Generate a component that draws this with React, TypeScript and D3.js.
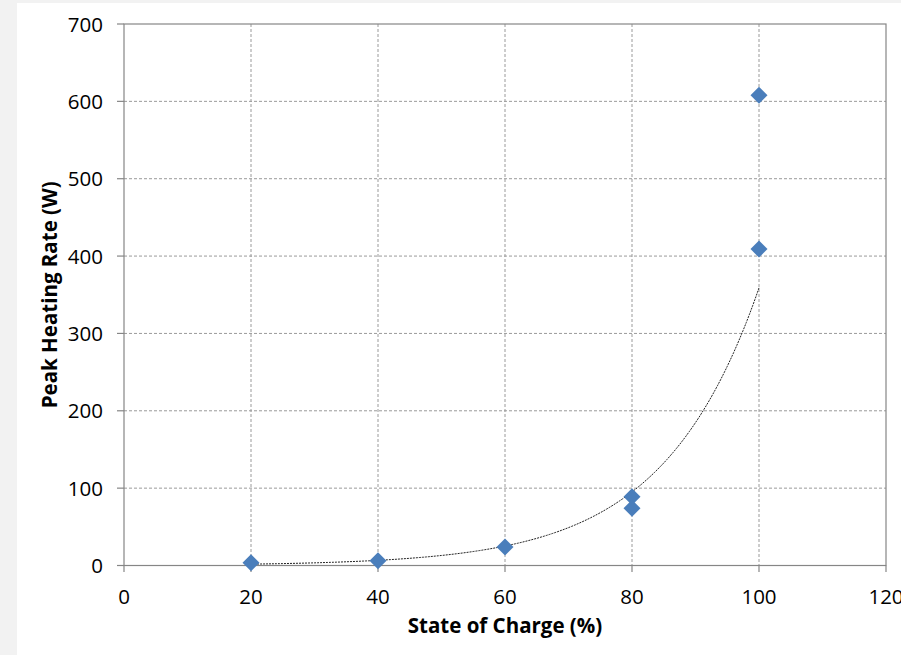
import React from "react";
import * as d3 from "d3";

// Measured peak heating rate at each state of charge
const socPercent = [20, 40, 60, 80, 80, 100, 100];
const peakHeatingW = [3.5, 6, 24, 89, 74, 608, 409];

// Exponential trendline y = a·e^(b·x), drawn across the measured range
const trendA = 0.469;
const trendB = 0.0664;
const trendRange = [20, 100];

const xTicks = [0, 20, 40, 60, 80, 100, 120];
const yTicks = [0, 100, 200, 300, 400, 500, 600, 700];

const xTitle = "State of Charge (%)";
const yTitle = "Peak Heating Rate (W)";

const W = 901;
const H = 655;
const plot = { left: 124, right: 886, top: 24, bottom: 565.5 };
const FONT = "'Open Sans', 'Liberation Sans', sans-serif";
const AXIS = "#868686";
const GRID = "#9a9a9a";
const MARK = "#4A7EBB";

export default function App() {
  const x = d3.scaleLinear().domain([0, 120]).range([plot.left, plot.right]);
  const y = d3.scaleLinear().domain([0, 700]).range([plot.bottom, plot.top]);

  const points = socPercent.map((s, i) => ({ s, v: peakHeatingW[i] }));

  const trendXs = d3.range(trendRange[0], trendRange[1] + 0.001, 0.5);
  const trendPath =
    d3
      .line<number>()
      .x((s) => x(s))
      .y((s) => y(trendA * Math.exp(trendB * s)))(trendXs) ?? "";

  const diamond = d3.symbol(d3.symbolSquare, 144)() ?? "";

  return (
    <svg
      width={W}
      height={H}
      style={{ position: "absolute", left: 0, top: 0, display: "block" }}
      fontFamily={FONT}
    >
      <rect x={0} y={0} width={W} height={H} fill="#f2f2f2" />
      <rect x={17} y={3} width={W - 17} height={H - 3} fill="#ffffff" />

      {/* gridlines */}
      {yTicks
        .filter((t) => t !== 0 && t !== 700)
        .map((t) => (
          <line
            key={"gy" + t}
            x1={plot.left}
            x2={plot.right}
            y1={y(t)}
            y2={y(t)}
            stroke={GRID}
            strokeWidth={1}
            strokeDasharray="3,2"
          />
        ))}
      {xTicks
        .filter((t) => t !== 0 && t !== 120)
        .map((t) => (
          <line
            key={"gx" + t}
            x1={x(t)}
            x2={x(t)}
            y1={plot.top}
            y2={plot.bottom}
            stroke={GRID}
            strokeWidth={1}
            strokeDasharray="3,2"
          />
        ))}

      {/* plot frame and axes */}
      <rect
        x={plot.left}
        y={plot.top}
        width={plot.right - plot.left}
        height={plot.bottom - plot.top}
        fill="none"
        stroke={AXIS}
        strokeWidth={1.2}
      />
      {yTicks.map((t) => (
        <line
          key={"ty" + t}
          x1={plot.left - 7}
          x2={plot.left}
          y1={y(t)}
          y2={y(t)}
          stroke={AXIS}
          strokeWidth={1.2}
        />
      ))}
      {xTicks.map((t) => (
        <line
          key={"tx" + t}
          x1={x(t)}
          x2={x(t)}
          y1={plot.bottom}
          y2={plot.bottom + 6.5}
          stroke={AXIS}
          strokeWidth={1.2}
        />
      ))}

      {/* tick labels */}
      {yTicks.map((t) => (
        <text
          key={"ly" + t}
          x={plot.left - 21}
          y={y(t) + 7.5}
          textAnchor="end"
          fontSize={20.5}
          fill="#000"
        >
          {t}
        </text>
      ))}
      {xTicks.map((t) => (
        <text
          key={"lx" + t}
          x={x(t)}
          y={604}
          textAnchor="middle"
          fontSize={20.5}
          fill="#000"
        >
          {t}
        </text>
      ))}

      {/* axis titles */}
      <text
        x={(plot.left + plot.right) / 2}
        y={633}
        textAnchor="middle"
        fontSize={20.5}
        fontWeight="bold"
        fill="#000"
      >
        {xTitle}
      </text>
      <text
        transform={`translate(57, ${(plot.top + plot.bottom) / 2}) rotate(-90)`}
        textAnchor="middle"
        fontSize={20.5}
        fontWeight="bold"
        fill="#000"
      >
        {yTitle}
      </text>

      {/* trendline */}
      <path
        d={trendPath}
        fill="none"
        stroke="#222"
        strokeWidth={1}
        strokeDasharray="2,1"
      />

      {/* measured points */}
      {points.map((p, i) => (
        <path
          key={"p" + i}
          d={diamond}
          transform={`translate(${x(p.s)}, ${y(p.v)}) rotate(45)`}
          fill={MARK}
        />
      ))}
    </svg>
  );
}
